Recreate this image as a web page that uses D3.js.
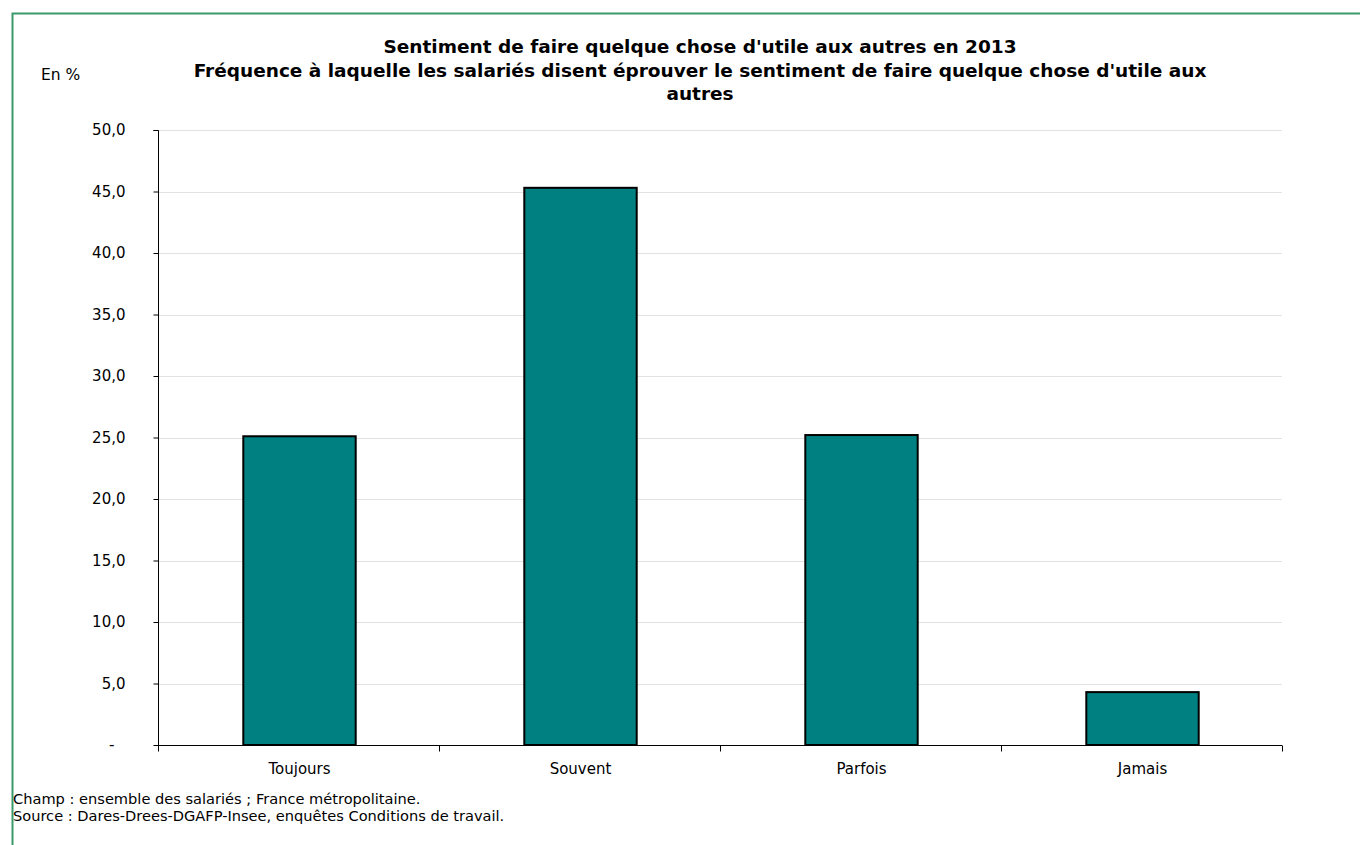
<!DOCTYPE html>
<html><head><meta charset="utf-8">
<script src="https://cdn.jsdelivr.net/npm/d3@7"></script>
<style>body{margin:0;background:#fff;}svg{display:block;font-family:"DejaVu Sans",Verdana,sans-serif;}</style>
</head><body>
<svg id="c" width="1360" height="845"></svg>
<script>
const categories = ["Toujours","Souvent","Parfois","Jamais"];
const values = [25.1, 45.3, 25.2, 4.3];
const yTicks = [0,5,10,15,20,25,30,35,40,45,50];
const titleLines = ["Sentiment de faire quelque chose d'utile aux autres en 2013",
  "Fréquence à laquelle les salariés disent éprouver le sentiment de faire quelque chose d'utile aux",
  "autres"];
const notes = ["Champ : ensemble des salariés ; France métropolitaine.",
  "Source : Dares-Drees-DGAFP-Insee, enquêtes Conditions de travail."];

const svg = d3.select("#c");
const L=158, R=1282, T=130, B=745;
svg.append("path").attr("d","M12.5,845 V13.5 H1360").attr("fill","none").attr("stroke","#3b9a6b").attr("stroke-width",2);

const xb = d3.scaleBand().domain(categories).range([L,R]);
const y = d3.scaleLinear().domain([0,50]).range([B,T]);

// gridlines
svg.append("g").selectAll("line").data(yTicks.filter(d=>d>0)).join("line")
  .attr("x1",L).attr("x2",R).attr("y1",d=>Math.round(y(d))+0.5).attr("y2",d=>Math.round(y(d))+0.5)
  .attr("stroke","#e2e2e2");

// bars
svg.append("g").selectAll("rect").data(values).join("rect")
  .attr("x",(d,i)=>xb(categories[i])+xb.bandwidth()*0.3+1)
  .attr("width",xb.bandwidth()*0.4)
  .attr("y",d=>y(d)).attr("height",d=>B-y(d))
  .attr("fill","#008080").attr("stroke","#000").attr("stroke-width",2);

// y axis
const ya = svg.append("g").attr("transform",`translate(${L+0.5},0)`)
  .call(d3.axisLeft(y).tickValues(yTicks).tickSize(5).tickPadding(28)
    .tickFormat(d=>d===0?"-":d3.format(".1f")(d).replace(".",",")));
ya.select(".domain").attr("d",`M-5,${T+0.5}H0V${B}`).attr("stroke","#000");
ya.selectAll("text").attr("font-size",15).attr("fill","#000").attr("font-family","DejaVu Sans, Verdana, sans-serif");
ya.selectAll(".tick").filter(d=>d===0).select("text").attr("dx",-11);
ya.selectAll(".tick line").attr("stroke","#000");

// x axis
const xa = svg.append("g").attr("transform",`translate(0,${B+0.5})`);
xa.append("line").attr("x1",L).attr("x2",R).attr("stroke","#000");
xa.selectAll(".tk").data(d3.range(categories.length+1)).join("line")
  .attr("x1",i=>L+i*xb.step()+0.5).attr("x2",i=>L+i*xb.step()+0.5).attr("y1",0).attr("y2",6).attr("stroke","#000");
xa.selectAll("text").data(categories).join("text")
  .attr("x",d=>xb(d)+xb.bandwidth()/2+1).attr("y",28).attr("text-anchor","middle")
  .attr("font-size",15).text(d=>d);

// title
svg.append("g").selectAll("text").data(titleLines).join("text")
  .attr("x",700).attr("y",(d,i)=>[53,77,100][i]).attr("text-anchor","middle")
  .attr("font-size",18.5).attr("font-weight","bold").text(d=>d);

svg.append("text").attr("x",41).attr("y",80).attr("font-size",15.5).text("En %");

svg.append("g").selectAll("text").data(notes).join("text")
  .attr("x",13).attr("y",(d,i)=>804+i*17).attr("font-size",14.6).text(d=>d);
</script>
</body></html>
